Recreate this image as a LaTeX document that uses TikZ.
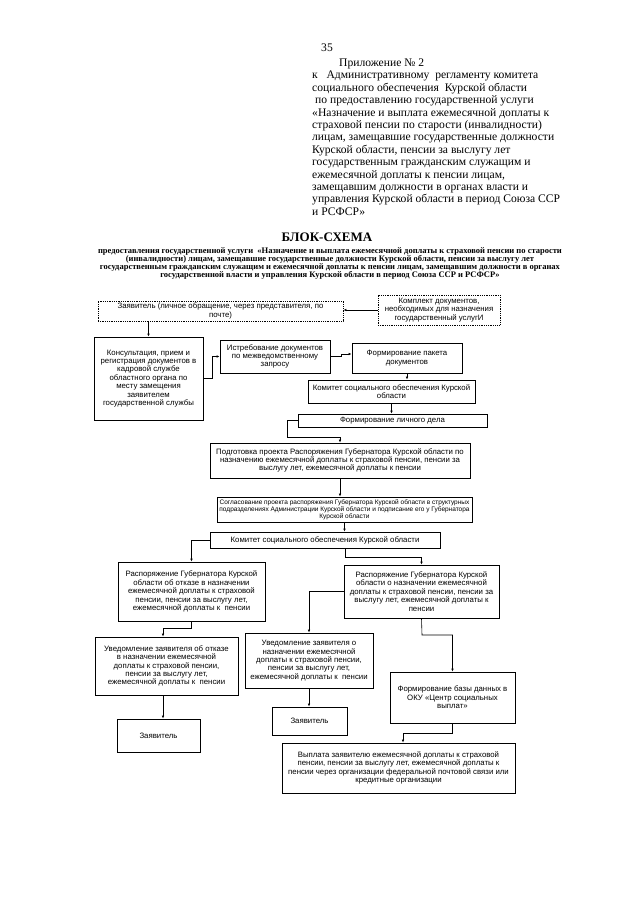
\documentclass[tikz,border=0pt]{standalone}
\usepackage{fontspec}
\setmainfont{Liberation Serif}
\setsansfont{Liberation Sans}
\usetikzlibrary{arrows.meta, calc, positioning}

\begin{document}
\begin{tikzpicture}[
    x=1pt, y=-1pt,
    box/.style={draw, line width=0.8pt, align=center, inner sep=1pt, font=\sffamily\fontsize{7.8}{8.4}\selectfont},
    dot box/.style={box, densely dotted},
    small box/.style={box, font=\sffamily\fontsize{6.5}{7.1}\selectfont},
    wh/.style 2 args={minimum width=#1pt, minimum height=#2pt},
    arrow/.style={-{Latex[length=3pt, width=2.6pt]}, line width=0.6pt},
    head/.style={inner sep=0pt, font=\fontsize{11.6}{12.4}\selectfont}
]
\useasboundingbox (0,0) rectangle (640,905);

% Header
\node[head, anchor=base west] (page) at (321,51) {35};
\node[head, anchor=base west] (annex) at (339,66) {Приложение № 2};
\node[head, anchor=north west, align=left] (annexText) at (312,71) {к~~ Административному~ регламенту комитета\\
социального обеспечения~ Курской области\\
\hspace{3pt}по предоставлению государственной услуги\\
«Назначение и выплата ежемесячной доплаты к\\
страховой пенсии по старости (инвалидности)\\
лицам, замещавшие государственные должности\\
Курской области, пенсии за выслугу лет\\
государственным гражданским служащим и\\
ежемесячной доплаты к пенсии лицам,\\
замещавшим должности в органах власти и\\
управления Курской области в период Союза ССР\\
и РСФСР»};

% Title
\node[inner sep=0pt, anchor=base, font=\bfseries\fontsize{13}{15}\selectfont] (title) at (327,241) {БЛОК-СХЕМА};
\node[inner sep=0pt, anchor=north, align=center, font=\bfseries\fontsize{8.5}{8}\selectfont] (subtitle) at (330,247) {предоставления государственной услуги~ «Назначение и выплата ежемесячной доплаты к страховой пенсии по старости\\
(инвалидности) лицам, замещавшие государственные должности Курской области, пенсии за выслугу лет\\
государственным гражданским служащим и ежемесячной доплаты к пенсии лицам, замещавшим должности в органах\\
государственной власти и управления Курской области в период Союза ССР и РСФСР»};

% Boxes
\node[dot box, wh={245}{20}] (applicant) at (220.5,311) {Заявитель (личное обращение, через представителя, по\\ почте)};
\node[dot box, wh={122}{30}] (docSet) at (439,310) {Комплект документов,\\ необходимых для назначения\\ государственный услугИ};
\node[box, wh={109}{83}] (consult) at (148.5,378.5) {Консультация, прием и\\ регистрация документов в\\ кадровой службе\\ областного органа по\\ месту замещения\\ заявителем\\ государственной службы};
\node[box, wh={110}{33}] (request) at (275,356.5) {Истребование документов\\ по межведомственному\\ запросу};
\node[box, wh={110}{30}] (package) at (407,358) {Формирование пакета\\ документов};
\node[box, wh={167}{23}] (committeeA) at (391.5,391.5) {Комитет социального обеспечения Курской\\ области};
\node[box, wh={189}{13}] (file) at (392.5,420.5) {Формирование личного дела};
\node[box, wh={260}{35}] (draft) at (340,460.5) {Подготовка проекта Распоряжения Губернатора Курской области по\\ назначению ежемесячной доплаты к страховой пенсии, пенсии за\\ выслугу лет, ежемесячной доплаты к пенсии};
\node[small box, wh={255}{25}] (approval) at (344.5,509.5) {Согласование проекта распоряжения Губернатора Курской области в структурных\\ подразделениях Администрации Курской области и подписание его у Губернатора\\ Курской области};
\node[box, wh={230}{16}] (committeeB) at (325,540) {Комитет социального обеспечения Курской области};
\node[box, wh={147}{59}] (refusal) at (191.5,591.5) {Распоряжение Губернатора Курской\\ области об отказе в назначении\\ ежемесячной доплаты к страховой\\ пенсии, пенсии за выслугу лет,\\ ежемесячной доплаты к~ пенсии};
\node[box, wh={155}{53}] (grant) at (421.5,591.5) {Распоряжение Губернатора Курской\\ области о назначении ежемесячной\\ доплаты к страховой пенсии, пенсии за\\ выслугу лет, ежемесячной доплаты к\\ пенсии};
\node[box, wh={143}{58}] (noticeRefusal) at (166.5,666) {Уведомление заявителя об отказе\\ в назначении ежемесячной\\ доплаты к страховой пенсии,\\ пенсии за выслугу лет,\\ ежемесячной доплаты к~ пенсии};
\node[box, wh={128}{55}] (noticeGrant) at (309,660.5) {Уведомление заявителя о\\ назначении ежемесячной\\ доплаты к страховой пенсии,\\ пенсии за выслугу лет,\\ ежемесячной доплаты к~ пенсии};
\node[box, wh={75}{28}] (applicantB) at (309.5,721) {Заявитель};
\node[box, wh={125}{51}] (database) at (452.5,697.5) {Формирование базы данных в\\ ОКУ «Центр социальных\\ выплат»};
\node[box, wh={83}{33}] (applicantC) at (158.5,735.5) {Заявитель};
\node[box, wh={233}{50}] (payment) at (398.5,768) {Выплата заявителю ежемесячной доплаты к страховой\\ пенсии, пенсии за выслугу лет, ежемесячной доплаты к\\ пенсии через организации федеральной почтовой связи или\\ кредитные организации};

% Turning points
\coordinate (fileTurn) at (287,437);
\coordinate (committeeTurn) at (345,557);
\coordinate (grantTurn) at (422,635);
\coordinate (databaseTurn) at (403,733);
\coordinate (refusalTurn) at (163,628);

% Arrows
\draw[arrow] (consult.north |- applicant.south) -- (consult.north);
\draw[arrow] (docSet.west) -- (docSet.west -| applicant.east);
\draw[arrow] (consult.east) -- ++(9,0) |- (request.west);
\draw[arrow] (request.east) -- ++(11,0) |- ([yshift=4pt]package.west);
\draw[arrow] (package.south) -- (package.south |- committeeA.north);
\draw[arrow] (committeeA.south) -- (committeeA.south |- file.north);
\draw[arrow] (file.west) -| (fileTurn) -| (draft.north);
\draw[arrow] (draft.south) -- (draft.south |- approval.north);
\draw[arrow] (approval.south) -- (approval.south |- committeeB.north);
\draw[arrow] (committeeB.west) -| (refusal.north);
\draw[arrow] (committeeB.south -| committeeTurn) -- (committeeTurn) -| (grant.north);
\draw[arrow] (grant.west) -| (noticeGrant.north);
\draw[arrow] (noticeGrant.south) -- (noticeGrant.south |- applicantB.north);
\draw[arrow] (grant.south) -- (grantTurn) -| (database.north);
\draw[arrow] (database.south) |- (databaseTurn) -- (databaseTurn |- payment.north);
\draw[arrow] (refusal.south) |- (refusalTurn) -- (refusalTurn |- noticeRefusal.north);
\draw[arrow] (refusalTurn |- noticeRefusal.south) -- (refusalTurn |- applicantC.north);
\end{tikzpicture}
\end{document}
